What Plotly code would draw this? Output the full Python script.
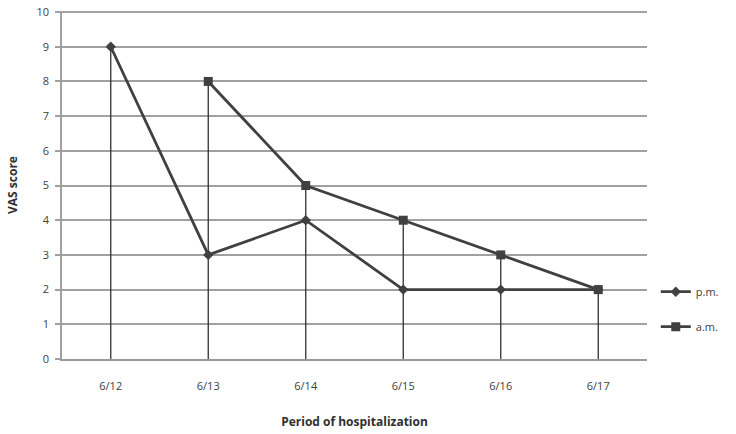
import plotly.graph_objects as go

categories = ["6/12", "6/13", "6/14", "6/15", "6/16", "6/17"]
pm_values = [9, 3, 4, 2, 2, 2]
am_values = [None, 8, 5, 4, 3, 2]
y_ticks = list(range(0, 11))

xs = list(range(len(categories)))

# drop lines from the highest point of each category to zero
drop_x, drop_y = [], []
for i, (p, a) in enumerate(zip(pm_values, am_values)):
    top = max(v for v in (p, a) if v is not None)
    drop_x += [i, i, None]
    drop_y += [0, top, None]

line_col = "#404040"
fig = go.Figure()
fig.add_trace(go.Scatter(x=drop_x, y=drop_y, mode="lines",
                         line=dict(color="#303030", width=1.3),
                         showlegend=False, hoverinfo="skip"))
fig.add_trace(go.Scatter(x=xs, y=pm_values, name="p.m.", mode="lines+markers",
                         legendgroup="pm",
                         line=dict(color=line_col, width=2.8),
                         marker=dict(symbol="diamond", size=8, color=line_col)))
fig.add_trace(go.Scatter(x=xs, y=am_values, name="a.m.", mode="lines+markers",
                         legendgroup="am",
                         line=dict(color=line_col, width=2.8),
                         marker=dict(symbol="square", size=9, color=line_col)))

font_fam = "Open Sans, Lato, sans-serif"
fig.update_layout(
    width=736, height=434,
    margin=dict(l=62, r=89, t=11, b=75, autoexpand=False),
    plot_bgcolor="white", paper_bgcolor="white",
    font=dict(family=font_fam, size=11, color="#404040"),
    xaxis=dict(
        tickmode="array", tickvals=xs, ticktext=categories,
        range=[-0.5, 5.5], showgrid=False, zeroline=False,
        showline=True, linecolor="#999999", linewidth=1.5,
        ticks="", ticklabelstandoff=16, automargin=False,
        title=dict(text="<b>Period of hospitalization</b>", standoff=26,
                   font=dict(size=12, color="#303030")),
    ),
    yaxis=dict(
        tickmode="array", tickvals=y_ticks, range=[0, 10.03],
        showgrid=True, gridcolor="#a0a0a0", gridwidth=1.5,
        zeroline=False, showline=True, linecolor="#a0a0a0", linewidth=1.5,
        ticks="outside", ticklen=5, tickcolor="#a0a0a0", tickwidth=1.5,
        ticklabelstandoff=4, automargin=False,
        title=dict(text="<b>VAS score</b>", standoff=16,
                   font=dict(size=12, color="#303030")),
    ),
    legend=dict(x=1.015, y=0.235, xanchor="left", yanchor="top",
                bgcolor="rgba(0,0,0,0)", font=dict(size=11, color="#404040"),
                tracegroupgap=16, itemwidth=30),
)
fig.write_html("out.html")
